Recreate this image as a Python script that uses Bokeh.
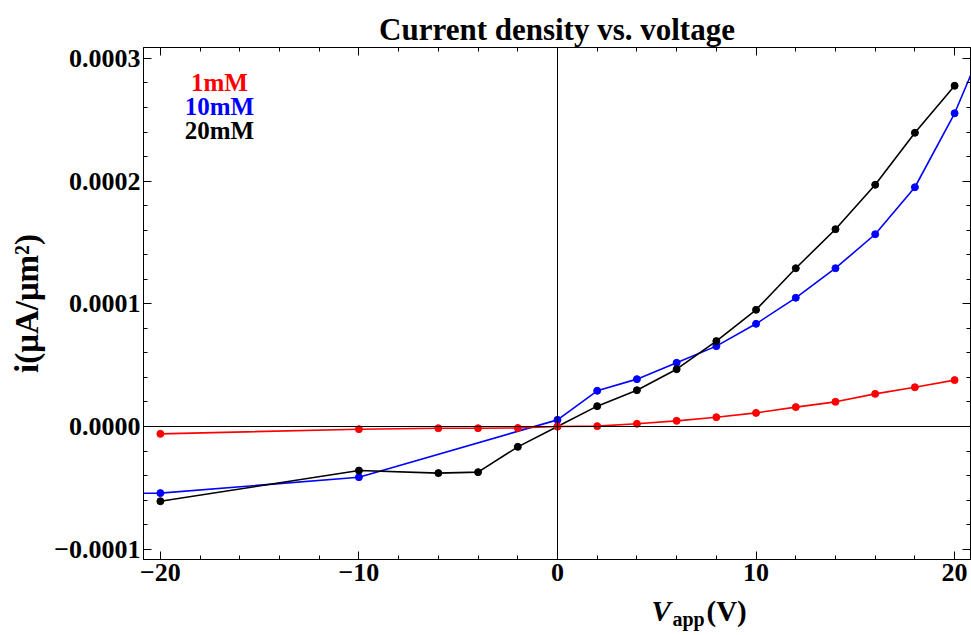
from bokeh.plotting import figure
from bokeh.models import (Range1d, SingleIntervalTicker, LinearAxis, Span, Label,
                          CustomJSTickFormatter, ColumnDataSource, Title)
from bokeh.layouts import column
from bokeh.embed import file_html
from bokeh.resources import INLINE

# ---- data ----
v_1mM = [-20, -10, -6, -4, -2, 0, 2, 4, 6, 8, 10, 12, 14, 16, 18, 20]
i_1mM = [-6.0e-6, -2.2e-6, -1.4e-6, -1.4e-6, -1.2e-6, 0.0, 0.3e-6, 2.2e-6, 4.6e-6,
         7.6e-6, 11.1e-6, 15.8e-6, 20.1e-6, 26.6e-6, 32.0e-6, 37.8e-6]

v_10mM = [-22, -20, -10, 0, 2, 4, 6, 8, 10, 12, 14, 16, 18, 20, 22]
i_10mM = [-5.45e-5, -5.43e-5, -4.13e-5, 0.54e-5, 2.91e-5, 3.86e-5, 5.19e-5, 6.55e-5,
          8.37e-5, 10.49e-5, 12.9e-5, 15.67e-5, 19.5e-5, 25.53e-5, 33.2e-5]

v_20mM = [-20, -10, -6, -4, -2, 0, 2, 4, 6, 8, 10, 12, 14, 16, 18, 20]
i_20mM = [-6.09e-5, -3.59e-5, -3.80e-5, -3.72e-5, -1.66e-5, 0.0, 1.66e-5, 2.96e-5,
          4.67e-5, 6.96e-5, 9.51e-5, 12.9e-5, 16.08e-5, 19.7e-5, 23.94e-5, 27.77e-5]

series_names = ["1mM", "10mM", "20mM"]
series_colors = ["#ff0000", "#0000ff", "#000000"]

title_text = "Current density vs. voltage"
x_label_main, x_label_sub, x_label_tail = "V", "app", "(V)"
y_label_text = "i(\u03bcA/\u03bcm\u00b2)"

W = 971
H_MAIN, H_XLAB = 593, 42
SERIF = "Liberation Serif"
FL, FB = 143, 559   # frame left / bottom in canvas pixels (for label placement)

p = figure(width=W, height=H_MAIN, output_backend="svg", toolbar_location=None,
           x_range=Range1d(-20.85, 20.8), y_range=Range1d(-0.0001084, 0.0003089),
           min_border_left=143, min_border_right=1, min_border_top=47,
           min_border_bottom=H_MAIN - FB,
           x_axis_location=None, y_axis_location=None)
p.grid.visible = False
p.outline_line_color = "black"
p.outline_line_width = 1
p.background_fill_color = "white"
p.border_fill_color = "white"

p.title = Title(text=title_text, align="center", text_font=SERIF, text_font_style="bold",
                text_font_size="31px", text_color="black", standoff=2)

xt = SingleIntervalTicker(interval=10, num_minor_ticks=5)
yt = SingleIntervalTicker(interval=0.0001, num_minor_ticks=5)

xfmt = CustomJSTickFormatter(code="""
    if (Math.abs(tick) < 1e-9) return '0';
    return (tick < 0 ? '\\u2212' : '') + Math.abs(tick).toFixed(0);
""")
yfmt = CustomJSTickFormatter(code="""
    if (Math.abs(tick) < 1e-12) return '0.0000';
    return (tick < 0 ? '\\u2212' : '') + Math.abs(tick).toFixed(4);
""")
blank = CustomJSTickFormatter(code="return '';")

def style_axis(ax, show_labels):
    ax.axis_line_color = "black"
    ax.major_tick_line_color = "black"
    ax.minor_tick_line_color = "black"
    ax.major_tick_in = 8
    ax.major_tick_out = 0
    ax.minor_tick_in = 4
    ax.minor_tick_out = 0
    ax.major_label_text_font = SERIF
    ax.major_label_text_font_style = "bold"
    ax.major_label_text_font_size = "26px"
    if show_labels:
        ax.major_label_text_color = "black"
    else:
        ax.major_label_text_color = None
        ax.major_label_standoff = 0

bx = LinearAxis(ticker=xt, formatter=xfmt)
style_axis(bx, True)
bx.major_label_standoff = 4
p.add_layout(bx, "below")

lx = LinearAxis(ticker=yt, formatter=yfmt)
style_axis(lx, True)
lx.major_label_standoff = 3
lx.axis_label = y_label_text
lx.axis_label_text_font = SERIF
lx.axis_label_text_font_style = "bold"
lx.axis_label_text_font_size = "33px"
lx.axis_label_text_color = "black"
lx.axis_label_standoff = 6
p.add_layout(lx, "left")

tx = LinearAxis(ticker=xt, formatter=blank)
style_axis(tx, False)
p.add_layout(tx, "above")

rx = LinearAxis(ticker=yt, formatter=blank)
style_axis(rx, False)
p.add_layout(rx, "right")

# zero axes
p.add_layout(Span(location=0, dimension="width", line_color="black", line_width=1))
p.add_layout(Span(location=0, dimension="height", line_color="black", line_width=1))

data = [(v_10mM, i_10mM), (v_20mM, i_20mM), (v_1mM, i_1mM)]
cols = [series_colors[1], series_colors[2], series_colors[0]]
for (xs, ys), c in zip(data, cols):
    src = ColumnDataSource(dict(x=xs, y=ys))
    p.line("x", "y", source=src, line_color=c, line_width=1.6)
    p.scatter("x", "y", source=src, size=7, fill_color=c, line_color=c)

# legend texts (inside the frame)
for name, c, py in zip(series_names, series_colors, [82, 106, 130]):
    p.add_layout(Label(x=219 - FL, y=FB - py, x_units="screen", y_units="screen", text=name,
                       text_color=c, text_font=SERIF, text_font_style="bold",
                       text_font_size="25px", text_align="center",
                       text_baseline="alphabetic"))

# x axis label strip: V_app(V)
q = figure(width=W, height=H_XLAB, output_backend="svg", toolbar_location=None,
           x_range=Range1d(0, 1), y_range=Range1d(0, 1),
           min_border=0, x_axis_location=None, y_axis_location=None)
q.grid.visible = False
q.outline_line_color = None
q.border_fill_color = "white"
q.background_fill_color = "white"

TOP = H_MAIN
def qlab(text, px, py, size, style="bold"):
    q.add_layout(Label(x=px, y=H_XLAB - (py - TOP), x_units="screen", y_units="screen",
                       text=text, text_color="black", text_font=SERIF,
                       text_font_style=style, text_font_size=size,
                       text_align="left", text_baseline="alphabetic"))

qlab(x_label_main, 508, 610, "29px", style="bold italic")
qlab(x_label_sub, 529, 618, "20px")
qlab(x_label_tail, 563, 610, "29px")

layout = column(p, q, spacing=0)
open("out.html", "w").write(file_html(layout, INLINE))
